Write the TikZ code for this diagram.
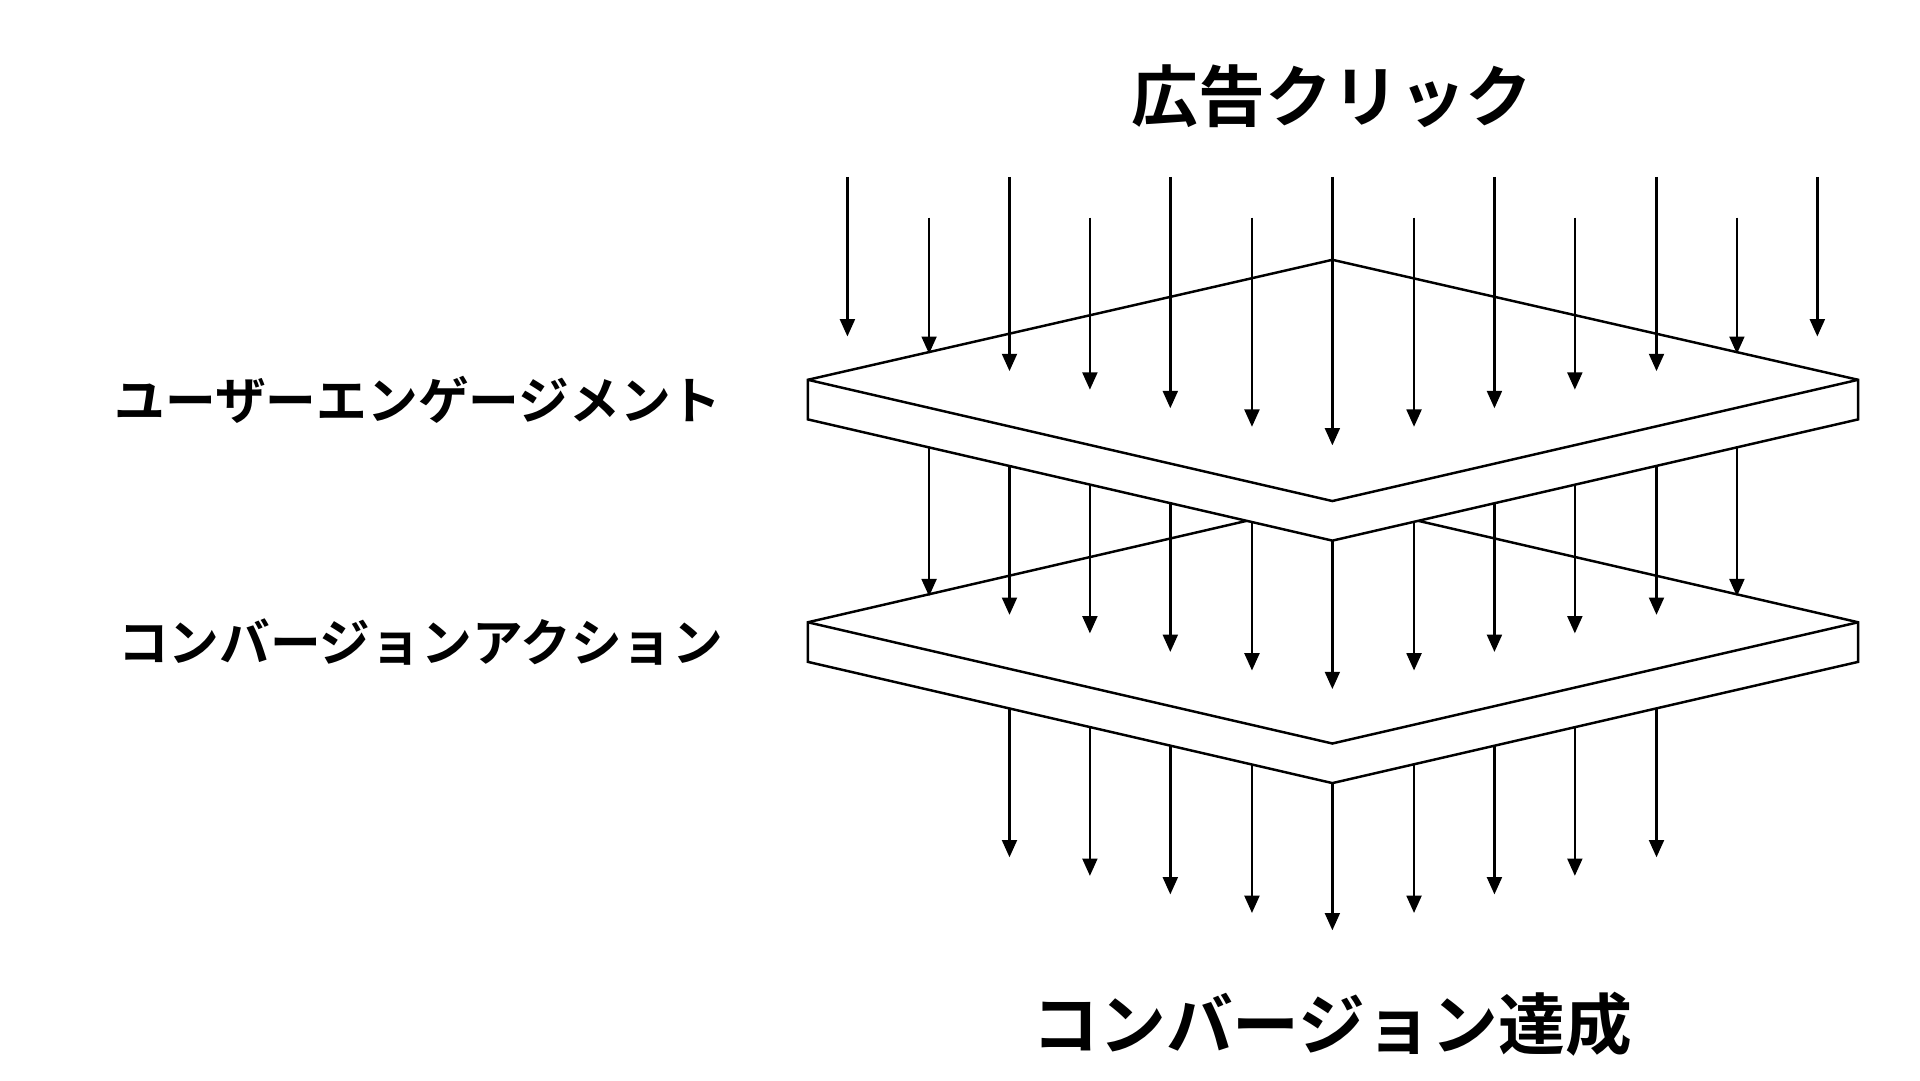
\documentclass[tikz,border=0pt]{standalone}
\usepackage{fontspec}
\newfontfamily\jp{Noto Sans CJK JP Bold}
\usetikzlibrary{arrows.meta}
\begin{document}
\begin{tikzpicture}[x=1pt,y=-1pt,
  arr/.style={line width=2pt,-{Triangle[length=14pt,width=12pt]}},
  plate/.style={draw,line width=2pt,fill=white,line join=miter},
  big/.style={font=\jp\fontsize{54}{60}\selectfont},
  side/.style={font=\jp\fontsize{41}{46}\selectfont}]
\useasboundingbox (0,0) rectangle (1552,873);
% bottom arrows
\foreach \x/\e in {816/693,881/708,946/723,1012/738,1077/752,1143/738,1208/723,1273/708,1339/693}
  {\coordinate (b\x) at (\x,530); \coordinate (be\x) at (\x,\e); \draw[arr] (b\x) -- (be\x);}
% plate 2
\draw[plate] (653,503) -- (1077,405) -- (1502,503) -- (1502,535) -- (1077,633) -- (653,535) -- cycle;
\draw[line width=2pt] (653,503) -- (1077,601) -- (1502,503);
% middle arrows
\foreach \x/\e in {751/482,816/497,881/512,946/527,1012/542,1077/557,1143/542,1208/527,1273/512,1339/497,1404/482}
  {\coordinate (m\x) at (\x,330); \coordinate (me\x) at (\x,\e); \draw[arr] (m\x) -- (me\x);}
% plate 1
\draw[plate] (653,307) -- (1077,210) -- (1502,307) -- (1502,339) -- (1077,437) -- (653,339) -- cycle;
\draw[line width=2pt] (653,307) -- (1077,405) -- (1502,307);
% top arrows
\foreach \x/\s/\e in {685/143/272,751/176/286,816/143/300,881/176/315,946/143/330,1012/176/345,1077/143/360,1143/176/345,1208/143/330,1273/176/315,1339/143/300,1404/176/286,1469/143/272}
  {\coordinate (t\x) at (\x,\s); \coordinate (te\x) at (\x,\e); \draw[arr] (t\x) -- (te\x);}
\node[big] (top) at (1077,78) {広告クリック};
\node[big] (bot) at (1077,828) {コンバージョン達成};
\node[side] (l1) at (338,323) {ユーザーエンゲージメント};
\node[side] (l2) at (340,519) {コンバージョンアクション};
\end{tikzpicture}
\end{document}
